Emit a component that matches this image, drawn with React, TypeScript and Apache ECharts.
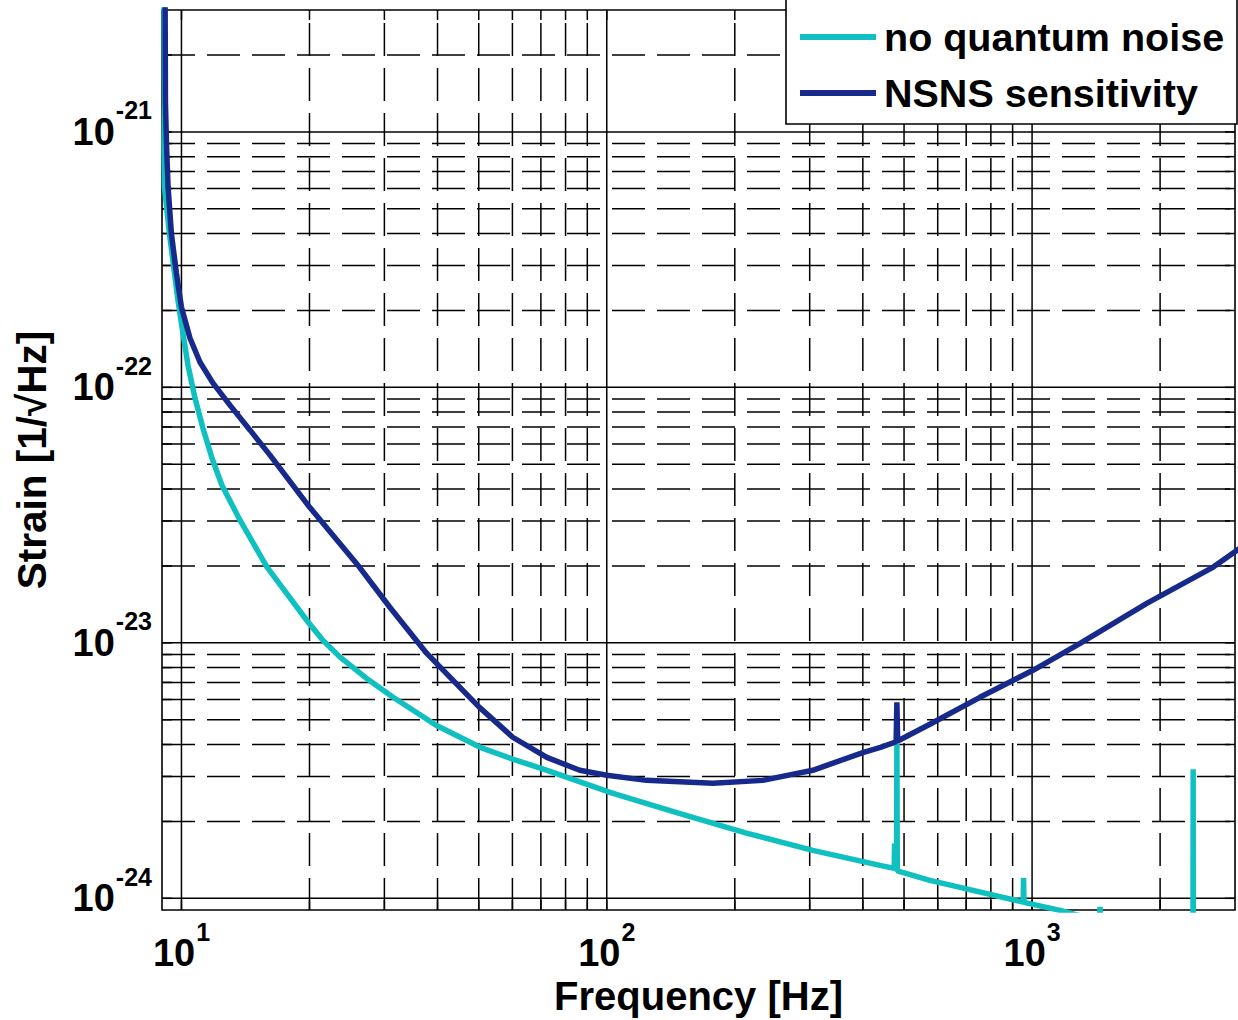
import React, { useEffect, useRef } from "react";
import * as echarts from "echarts";

// ---- axis ranges & grid/tick values ----
const X_MIN = 9;
const X_MAX = 3000;
const Y_MIN = 0.9e-24;
const Y_MAX = 3e-21;

const X_MAJOR = [10, 100, 1000];
const X_MINOR = [20, 30, 40, 50, 60, 70, 80, 90, 200, 300, 400, 500, 600, 700, 800, 900, 2000];
const Y_MAJOR = [1e-24, 1e-23, 1e-22, 1e-21];
const Y_MINOR = [
  2e-24, 3e-24, 4e-24, 5e-24, 6e-24, 7e-24, 8e-24, 9e-24,
  2e-23, 3e-23, 4e-23, 5e-23, 6e-23, 7e-23, 8e-23, 9e-23,
  2e-22, 3e-22, 4e-22, 5e-22, 6e-22, 7e-22, 8e-22, 9e-22,
  2e-21,
];

// ---- series (frequency [Hz], strain [1/sqrt(Hz)]) ----
const NO_QUANTUM: [number, number][] = [
  [9.1, 4.0e-21], [9.12, 1.3e-21], [9.1, 9.0e-22], [9.12, 6.1e-22], [9.37, 4.0e-22],
  [9.63, 2.8e-22], [9.81, 2.2e-22], [10.08, 1.63e-22], [10.36, 1.22e-22], [10.76, 9.08e-23],
  [11.23, 6.93e-23], [11.8, 5.28e-23], [12.45, 4.14e-23], [13.73, 3.02e-23], [15.89, 1.98e-23],
  [19.7, 1.226e-23], [21.5, 1.023e-23], [23.6, 8.79e-24], [27.2, 7.27e-24], [31.45, 6.12e-24],
  [39.7, 4.76e-24], [50.4, 3.9e-24], [60.3, 3.5e-24], [72.4, 3.17e-24],
  [103, 2.58e-24], [148, 2.15e-24], [213, 1.8e-24], [305, 1.54e-24], [439, 1.345e-24],
  [474, 1.31e-24], [475, 1.64e-24], [477, 1.3e-24], [480, 1.3e-24], [481, 4.04e-24],
  [482, 1.28e-24], [575, 1.175e-24], [677, 1.104e-24], [953, 0.966e-24], [955, 1.2e-24],
  [957, 0.964e-24], [1164, 0.897e-24], [1440, 0.815e-24], [1445, 0.925e-24], [1450, 0.814e-24],
  [2390, 0.668e-24], [2392, 3.2e-24], [2394, 0.667e-24], [3100, 0.6e-24],
];

const NSNS: [number, number][] = [
  [9.15, 4.0e-21], [9.17, 1.3e-21], [9.22, 9.0e-22], [9.3, 6.1e-22], [9.47, 4.0e-22],
  [9.73, 2.8e-22], [10.0, 2.06e-22], [10.47, 1.56e-22], [11.05, 1.257e-22], [11.86, 1.039e-22],
  [13.0, 8.52e-23], [14.5, 6.8e-23], [16.15, 5.43e-23], [20.0, 3.4e-23], [26.2, 1.98e-23],
  [30.9, 1.378e-23], [37.7, 9.11e-24], [47.6, 6.12e-24], [50.2, 5.59e-24], [60.1, 4.27e-24],
  [72.3, 3.56e-24], [86.4, 3.17e-24], [100, 3.03e-24], [124, 2.895e-24], [177.6, 2.82e-24],
  [232.8, 2.895e-24], [305, 3.17e-24], [400, 3.72e-24], [440, 3.9e-24], [479, 4.1e-24],
  [481, 5.85e-24], [483, 4.13e-24], [575, 4.8e-24], [754, 6.12e-24], [1005, 7.81e-24],
  [1297, 9.96e-24], [1865, 1.43e-23], [2667, 1.98e-23], [3100, 2.36e-23],
];

const LEGEND_NAMES = ["no quantum noise", "NSNS sensitivity"];
const CYAN = "#10C0C0";
const NAVY = "#172A8C";
const FONT = "'Liberation Sans', Arial, Helvetica, sans-serif";
const TICK = 10;
const GRID_W = 1.5;

const expLabel = (v: number) => {
  const e = Math.log10(v);
  const r = Math.round(e);
  if (Math.abs(e - r) > 1e-6) return "";
  return `{b|10}{s|${r}}`;
};

const labelRich = {
  b: { fontSize: 38, fontWeight: "bold", fontFamily: FONT, color: "#000", lineHeight: 40, verticalAlign: "middle" },
  s: { fontSize: 25, fontWeight: "bold", fontFamily: FONT, color: "#000", lineHeight: 25, padding: [0, 0, 43, 1], verticalAlign: "middle" },
};

export default function App() {
  const ref = useRef<HTMLDivElement>(null);
  useEffect(() => {
    if (!ref.current) return;
    const chart = echarts.init(ref.current, undefined, { renderer: "svg" });

    const vGrid = [
      ...X_MAJOR.map((v) => [v, Y_MIN, 1]),
      ...X_MINOR.map((v) => [v, Y_MIN, 0]),
    ];
    const hGrid = [
      ...Y_MAJOR.map((v) => [X_MIN, v, 1]),
      ...Y_MINOR.map((v) => [X_MIN, v, 0]),
    ];
    const lineStyle = { stroke: "#000", lineWidth: GRID_W };

    chart.setOption({
      animation: false,
      backgroundColor: "#fff",
      grid: {
        left: 162, top: 10, width: 1073, height: 900,
        containLabel: false, outerBoundsMode: "none",
        show: true, borderColor: "#000", borderWidth: 1.6, backgroundColor: "transparent",
      },
      xAxis: {
        type: "log", logBase: 10, min: X_MIN, max: X_MAX,
        name: "Frequency [Hz]", nameLocation: "middle", nameGap: 66, nameMoveOverlap: false,
        nameTextStyle: { fontSize: 40, fontWeight: "bold", fontFamily: FONT, color: "#000" },
        axisLine: { show: false }, axisTick: { show: false }, splitLine: { show: false },
        minorTick: { show: false }, minorSplitLine: { show: false },
        axisLabel: { formatter: expLabel, margin: 23, rich: labelRich, showMinLabel: false, showMaxLabel: false },
      },
      yAxis: {
        type: "log", logBase: 10, min: Y_MIN, max: Y_MAX,
        name: "Strain [1/\u221AHz]", nameLocation: "middle", nameGap: 110, nameMoveOverlap: false,
        nameTextStyle: { fontSize: 40.5, fontWeight: "bold", fontFamily: FONT, color: "#000" },
        axisLine: { show: false }, axisTick: { show: false }, splitLine: { show: false },
        minorTick: { show: false }, minorSplitLine: { show: false },
        axisLabel: { formatter: expLabel, margin: 10, rich: labelRich, showMinLabel: false, showMaxLabel: false },
      },
      legend: {
        left: 800, top: 15, orient: "vertical", itemWidth: 76, itemHeight: 6, itemGap: 12,
        padding: 0, icon: "rect", selectedMode: false, z: 20,
        textStyle: { fontSize: 39.5, fontWeight: "bold", fontFamily: FONT, color: "#000", lineHeight: 44, padding: [0, 0, 0, 3] },
        data: LEGEND_NAMES,
      },
      graphic: [
        {
          type: "rect", z: 15, silent: true,
          shape: { x: 786, y: -2, width: 451, height: 126 },
          style: { fill: "#fff", stroke: "#000", lineWidth: 1.6 },
        },
      ],
      series: [
        {
          type: "custom", z: 1, silent: true, clip: false,
          encode: { x: 0, y: 1 },
          data: vGrid,
          renderItem: (_p: any, api: any) => {
            const v = api.value(0);
            const major = api.value(2) === 1;
            const a = api.coord([v, Y_MAX]);
            const b = api.coord([v, Y_MIN]);
            const main: any = { stroke: "#000", lineWidth: GRID_W };
            if (!major) { main.lineDash = [33, 12]; main.lineDashOffset = 32; }
            return {
              type: "group",
              children: [
                { type: "line", shape: { x1: a[0], y1: a[1], x2: b[0], y2: b[1] }, style: main },
                { type: "line", shape: { x1: a[0], y1: a[1], x2: a[0], y2: a[1] + TICK }, style: lineStyle },
                { type: "line", shape: { x1: b[0], y1: b[1] - TICK, x2: b[0], y2: b[1] }, style: lineStyle },
              ],
            };
          },
        },
        {
          type: "custom", z: 1, silent: true, clip: false,
          encode: { x: 0, y: 1 },
          data: hGrid,
          renderItem: (_p: any, api: any) => {
            const v = api.value(1);
            const major = api.value(2) === 1;
            const a = api.coord([X_MIN, v]);
            const b = api.coord([X_MAX, v]);
            const main: any = { stroke: "#000", lineWidth: GRID_W };
            if (!major) { main.lineDash = [33, 12]; main.lineDashOffset = 0; }
            return {
              type: "group",
              children: [
                { type: "line", shape: { x1: a[0], y1: a[1], x2: b[0], y2: b[1] }, style: main },
                { type: "line", shape: { x1: a[0], y1: a[1], x2: a[0] + TICK, y2: a[1] }, style: lineStyle },
                { type: "line", shape: { x1: b[0] - TICK, y1: b[1], x2: b[0], y2: b[1] }, style: lineStyle },
              ],
            };
          },
        },
        {
          name: LEGEND_NAMES[0], type: "line", z: 3, data: NO_QUANTUM,
          showSymbol: false, symbol: "none", color: CYAN, clip: true,
          lineStyle: { color: CYAN, width: 5.5 },
        },
        {
          name: LEGEND_NAMES[1], type: "line", z: 4, data: NSNS,
          showSymbol: false, symbol: "none", color: NAVY, clip: true,
          lineStyle: { color: NAVY, width: 5.5 },
        },
      ],
    });
    return () => chart.dispose();
  }, []);

  return (
    <div
      ref={ref}
      style={{ position: "fixed", left: 0, top: 0, width: 1238, height: 1020, background: "#fff" }}
    />
  );
}
